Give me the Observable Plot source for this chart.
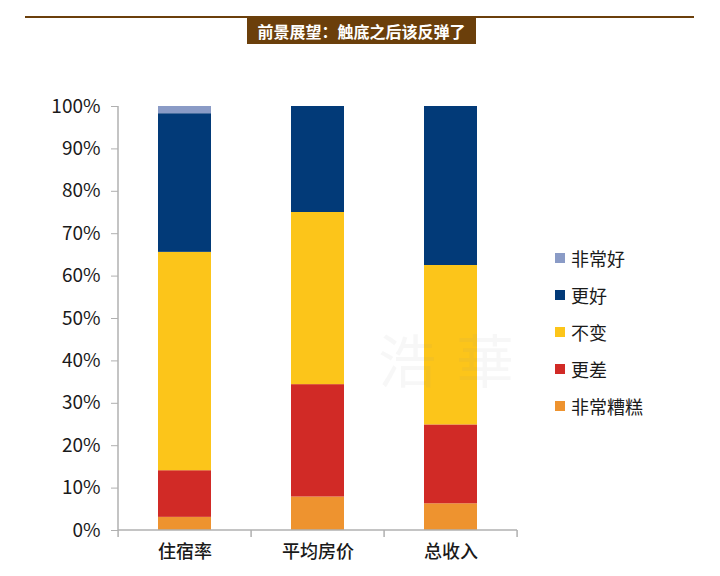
<!DOCTYPE html>
<html><head><meta charset="utf-8">
<script src="https://cdn.jsdelivr.net/npm/d3@7"></script>
<script src="https://cdn.jsdelivr.net/npm/@observablehq/plot@0.6"></script>
<style>
body{margin:0;background:#fff;font-family:"Noto Sans CJK SC",sans-serif;}
#wrap{position:relative;width:720px;height:576px;overflow:hidden}
#wrap svg{position:absolute;left:0;top:0}
#rule{position:absolute;left:25px;top:16px;width:669px;height:2px;background:#6b3f0b}
#title{position:absolute;left:247px;top:18px;width:229px;height:26px;background:#6b3f0b;color:#fff;font-weight:bold;font-size:16px;line-height:26px;text-align:center;white-space:nowrap}
#legend{position:absolute;left:555px;top:239px}
.item{display:flex;align-items:center;height:37px;font-size:18px;color:#1a1a1a}
.sw{width:10px;height:10px;margin-right:6px}
#wm{position:absolute;left:378px;top:316px;font-size:58px;color:rgba(140,140,140,0.07);letter-spacing:20px;pointer-events:none}
</style></head>
<body>
<div id="wrap">
  <div id="chart"></div>
  <div id="wm">浩華</div>
  <div id="rule"></div>
  <div id="title">前景展望：触底之后该反弹了</div>
  <div id="legend"></div>
</div>
<script>
const categories = ["住宿率", "平均房价", "总收入"];
const series = ["非常糟糕", "更差", "不变", "更好", "非常好"];
const colors = ["#ee932f", "#d12a26", "#fcc51a", "#023a78", "#8a9bc6"];
const veryBad = [3.1, 7.9, 6.3];
const worse = [11.0, 26.5, 18.6];
const same = [51.5, 40.6, 37.6];
const better = [32.7, 25.0, 37.5];
const veryGood = [1.7, 0, 0];
const yTicks = [0, 10, 20, 30, 40, 50, 60, 70, 80, 90, 100];

const seriesValues = [veryBad, worse, same, better, veryGood];
const rows = [];
categories.forEach((c, i) => {
  series.forEach((s, j) => rows.push({cat: c, series: s, value: seriesValues[j][i]}));
});

const padInner = 0.6;
function axisLines(index, scales, values, dims) {
  const g = d3.create("svg:g").attr("stroke", "#b0b0b0").attr("stroke-width", 1.5).attr("fill", "none");
  const x0 = dims.marginLeft, x1 = dims.width - dims.marginRight;
  const y0 = scales.y(0), yTop = scales.y(100);
  g.append("line").attr("x1", x0).attr("x2", x0).attr("y1", y0).attr("y2", yTop);
  g.append("line").attr("x1", x0).attr("x2", x1).attr("y1", y0).attr("y2", y0);
  const step = scales.x(categories[1]) - scales.x(categories[0]);
  const bw = step * (1 - padInner);
  const edges = categories.map(c => scales.x(c) - (step - bw) / 2);
  edges.push(scales.x(categories[categories.length - 1]) + bw + (step - bw) / 2);
  edges.forEach(e => g.append("line").attr("x1", e).attr("x2", e).attr("y1", y0).attr("y2", y0 + 7));
  return g.node();
}

const plot = Plot.plot({
  width: 720, height: 576,
  marginLeft: 118, marginRight: 203, marginTop: 106, marginBottom: 46,
  style: {fontFamily: "'Noto Sans CJK SC', sans-serif", fontSize: "18px", color: "#1a1a1a", background: "transparent"},
  x: {domain: categories, paddingInner: padInner, paddingOuter: padInner / 2, label: null},
  y: {domain: [0, 100], label: null},
  color: {domain: series, range: colors},
  marks: [
    Plot.barY(rows, {x: "cat", y: "value", fill: "series", z: "series"}),
    Plot.axisY({ticks: yTicks, tickFormat: d => d + "%", tickSize: 7, tickPadding: 11, stroke: "#b0b0b0", fill: "#1a1a1a", fontSize: 19, label: null}),
    Plot.axisX({tickSize: 0, tickPadding: 15, fontSize: 18, fill: "#1a1a1a", fontWeight: 500, label: null}),
    axisLines
  ]
});
document.getElementById("chart").appendChild(plot);

const legend = document.getElementById("legend");
series.slice().reverse().forEach(s => {
  const item = document.createElement("div");
  item.className = "item";
  const sw = document.createElement("div");
  sw.className = "sw";
  sw.style.background = colors[series.indexOf(s)];
  item.appendChild(sw);
  item.appendChild(document.createTextNode(s));
  legend.appendChild(item);
});
</script>
</body></html>
